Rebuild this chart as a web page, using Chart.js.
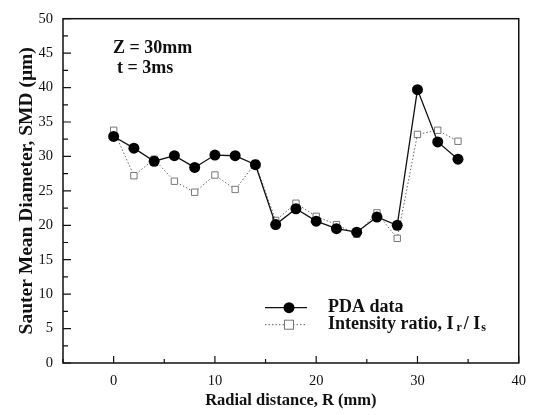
<!DOCTYPE html>
<html>
<head>
<meta charset="utf-8">
<script src="https://cdn.jsdelivr.net/npm/chart.js@4/dist/chart.umd.min.js"></script>
<style>
  html, body { margin: 0; padding: 0; background: #fff; }
  #wrap { width: 535px; height: 415px; }
</style>
</head>
<body>
<div id="wrap"><canvas id="chart" width="535" height="415"></canvas></div>
<script>
// radial positions (mm)
const radialPos = [0, 2, 4, 6, 8, 10, 12, 14, 16, 18, 20, 22, 24, 26, 28, 30, 32, 34];
// SMD from PDA
const pdaSmd = [32.9, 31.2, 29.3, 30.1, 28.4, 30.2, 30.1, 28.8, 20.1, 22.4, 20.6, 19.5, 19.0, 21.2, 20.0, 39.7, 32.1, 29.6];
// SMD from intensity ratio
const ratioSmd = [33.8, 27.2, 29.6, 26.4, 24.8, 27.3, 25.2, 29.0, 20.7, 23.2, 21.3, 20.1, 18.7, 21.8, 18.1, 33.2, 33.8, 32.2];

const xMajorTicks = [0, 10, 20, 30, 40];
const xMinorTicks = [-5, 5, 15, 25, 35];
const yMajorTicks = [0, 5, 10, 15, 20, 25, 30, 35, 40, 45, 50];
const yMinorTicks = [2.5, 7.5, 12.5, 17.5, 22.5, 27.5, 32.5, 37.5, 42.5, 47.5];

const seriesNames = ['PDA data', 'Intensity ratio, I'];
const noteLines = ['Z = 30mm', 't = 3ms'];

const serif = "'Liberation Serif', 'DejaVu Serif', serif";

function toPoints(ys) {
    return radialPos.map((x, i) => ({ x: x, y: ys[i] }));
}

// frame, inward ticks, note text and legend
const decor = {
    id: 'decor',
    afterDraw(chart) {
        const ctx = chart.ctx;
        const a = chart.chartArea;
        const xs = chart.scales.x;
        const ys = chart.scales.y;

        ctx.save();
        ctx.strokeStyle = '#111';
        ctx.lineWidth = 1.5;
        ctx.strokeRect(a.left, a.top, a.right - a.left, a.bottom - a.top);

        ctx.lineWidth = 1.2;
        ctx.beginPath();
        for (let t of xMajorTicks) {
            let px = xs.getPixelForValue(t);
            ctx.moveTo(px, a.bottom);
            ctx.lineTo(px, a.bottom - 7);
        }
        for (let t of xMinorTicks) {
            let px = xs.getPixelForValue(t);
            ctx.moveTo(px, a.bottom);
            ctx.lineTo(px, a.bottom - 4);
        }
        for (let t of yMajorTicks) {
            let py = ys.getPixelForValue(t);
            ctx.moveTo(a.left, py);
            ctx.lineTo(a.left + 8, py);
        }
        for (let t of yMinorTicks) {
            let py = ys.getPixelForValue(t);
            ctx.moveTo(a.left, py);
            ctx.lineTo(a.left + 5, py);
        }
        ctx.stroke();

        // note
        ctx.fillStyle = '#111';
        ctx.font = 'bold 18px ' + serif;
        ctx.textBaseline = 'middle';
        ctx.textAlign = 'left';
        ctx.fillText(noteLines[0], a.left + 50, a.top + 30);
        ctx.fillText(noteLines[1], a.left + 54, a.top + 50);

        // legend
        const ds = chart.data.datasets;
        const lx0 = a.left + 202, lx1 = a.left + 244, lmid = a.left + 226;
        const rows = [a.top + 289, a.top + 306];

        ctx.strokeStyle = ds[0].borderColor;
        ctx.lineWidth = ds[0].borderWidth;
        ctx.setLineDash([]);
        ctx.beginPath();
        ctx.moveTo(lx0, rows[0]);
        ctx.lineTo(lx1, rows[0]);
        ctx.stroke();
        ctx.fillStyle = ds[0].pointBackgroundColor;
        ctx.beginPath();
        ctx.arc(lmid, rows[0], ds[0].pointRadius, 0, Math.PI * 2);
        ctx.fill();

        ctx.strokeStyle = ds[1].borderColor;
        ctx.lineWidth = ds[1].borderWidth;
        ctx.setLineDash(ds[1].borderDash);
        ctx.beginPath();
        ctx.moveTo(lx0, rows[1]);
        ctx.lineTo(lx1, rows[1]);
        ctx.stroke();
        ctx.setLineDash([]);
        let r = ds[1].pointRadius;
        ctx.fillStyle = '#fff';
        ctx.fillRect(lmid - r, rows[1] - r, 2 * r, 2 * r);
        ctx.strokeStyle = ds[1].pointBorderColor;
        ctx.strokeRect(lmid - r, rows[1] - r, 2 * r, 2 * r);

        ctx.fillStyle = '#111';
        ctx.font = 'bold 18px ' + serif;
        ctx.textAlign = 'left';
        ctx.fillText(seriesNames[0], a.left + 265, rows[0]);
        let tx = a.left + 265;
        ctx.fillText(seriesNames[1], tx, rows[1]);
        tx += ctx.measureText(seriesNames[1]).width;
        ctx.font = 'bold 12px ' + serif;
        ctx.fillText('r', tx + 3, rows[1] + 3);
        tx += ctx.measureText('r').width + 5;
        ctx.font = 'bold 18px ' + serif;
        ctx.fillText('/ I', tx, rows[1]);
        tx += ctx.measureText('/ I').width;
        ctx.font = 'bold 12px ' + serif;
        ctx.fillText('s', tx + 1, rows[1] + 3);
        ctx.restore();
    }
};

new Chart(document.getElementById('chart'), {
    type: 'line',
    data: {
        datasets: [
            {
                label: seriesNames[0],
                data: toPoints(pdaSmd),
                borderColor: '#111',
                borderWidth: 1.3,
                pointStyle: 'circle',
                pointRadius: 5.5,
                pointBackgroundColor: '#000',
                pointBorderColor: '#000',
                pointBorderWidth: 0,
                tension: 0
            },
            {
                label: seriesNames[1] + 'r/Is',
                data: toPoints(ratioSmd),
                borderColor: '#666',
                borderWidth: 1,
                borderDash: [1.5, 2],
                pointStyle: 'rect',
                pointRadius: 4.5,
                pointBackgroundColor: '#fff',
                pointBorderColor: '#777',
                pointBorderWidth: 1,
                tension: 0
            }
        ]
    },
    options: {
        responsive: false,
        animation: false,
        layout: { padding: { left: 0, right: 14, top: 12, bottom: 0 } },
        plugins: {
            legend: { display: false },
            tooltip: { enabled: false }
        },
        scales: {
            x: {
                type: 'linear',
                min: -5,
                max: 40,
                afterBuildTicks: (s) => { s.ticks = xMajorTicks.map(v => ({ value: v })); },
                afterFit: (s) => { s.height = 52; },
                grid: { display: false, drawTicks: false },
                border: { display: false },
                ticks: {
                    padding: 9,
                    color: '#111',
                    font: { family: serif, size: 14.5 }
                },
                title: {
                    display: true,
                    text: 'Radial distance, R (mm)',
                    color: '#111',
                    font: { family: serif, size: 16.5, weight: 'bold' },
                    padding: { top: 0, bottom: 4 }
                }
            },
            y: {
                type: 'linear',
                min: 0,
                max: 50,
                afterBuildTicks: (s) => { s.ticks = yMajorTicks.map(v => ({ value: v })); },
                afterFit: (s) => { s.width = 63; },
                grid: { display: false, drawTicks: false },
                border: { display: false },
                ticks: {
                    padding: 10,
                    color: '#111',
                    font: { family: serif, size: 14.5 }
                },
                title: {
                    display: true,
                    text: 'Sauter Mean Diameter, SMD (\u03bcm)',
                    color: '#111',
                    font: { family: serif, size: 19.5, weight: 'bold' },
                    padding: { top: 15, bottom: 0 }
                }
            }
        }
    },
    plugins: [decor]
});
</script>
</body>
</html>
